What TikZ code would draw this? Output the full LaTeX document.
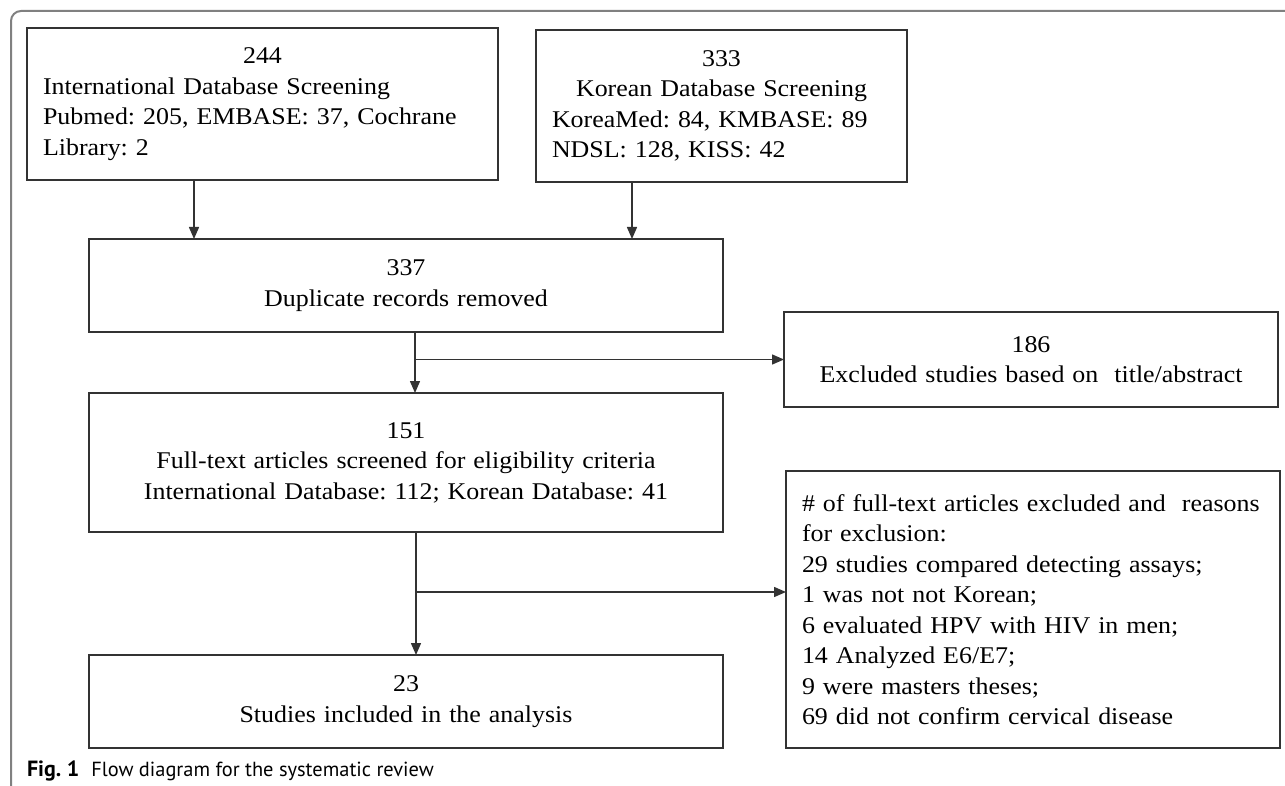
\documentclass[tikz,border=0pt]{standalone}
\usepackage{fontspec}
\setmainfont{Liberation Serif}[FakeStretch=1.08]
\newfontfamily\capfont{PT Sans}
\usetikzlibrary{arrows.meta}
\definecolor{boxgray}{HTML}{333333}
\definecolor{framegray}{HTML}{808080}
\frenchspacing
\begin{document}
\begin{tikzpicture}[x=0.5pt, y=-0.5pt, >={Triangle[length=6pt,width=5pt]},
    every node/.style={outer sep=0pt},
    box/.style={draw=boxgray, line width=0.75pt, inner xsep=8pt, inner ysep=0pt,
      font=\fontsize{12pt}{15.25pt}\selectfont},
    wide/.style={box, text width=301pt, minimum height=46.5pt, align=center},
    side/.style={box, text width=231pt, align=left}]
  \useasboundingbox (0,0) rectangle (1285,786);
  \draw[framegray, line width=1pt, rounded corners=5pt] (11,786) -- (11,11) -- (1285,11);

  \node[box, text width=219.5pt, minimum height=76pt, align=left] (I) at (262.5,104)
    {\makebox[\linewidth]{244}\\International Database Screening\\
     Pubmed: 205, EMBASE: 37, Cochrane\\Library: 2};
  \node[box, text width=169.5pt, minimum height=76pt, align=left] (K) at (721.5,106)
    {\makebox[\linewidth]{333}\\\makebox[\linewidth]{Korean Database Screening}\\
     KoreaMed: 84, KMBASE: 89\\NDSL: 128, KISS: 42};
  \node[wide] (D) at (406,285.5) {337\\Duplicate records removed};
  \node[side, minimum height=47.5pt, align=center] (E) at (1031,359.5)
    {186\\Excluded studies based on\ \ title/abstract};
  \node[wide, minimum height=69.5pt] (F) at (406,462.5)
    {151\\Full-text articles screened for eligibility criteria\\
     International Database: 112; Korean Database: 41\\[4pt]};
  \node[wide] (S) at (406,701.5) {23\\Studies included in the analysis};
  \node[side, minimum height=138.5pt] (R) at (1033,609.5)
    {\makebox[225pt][s]{\# of full-text articles excluded and\ \ reasons}\\
     for exclusion:\\29 studies compared detecting assays;\\1 was not not Korean;\\
     6 evaluated HPV with HIV in men;\\14 Analyzed E6/E7;\\9 were masters theses;\\
     69 did not confirm cervical disease};
  \node[anchor=base west, inner sep=0pt, font=\capfont\fontsize{10.2pt}{12pt}\selectfont] (cap) at (27,776)
    {\textbf{\fontsize{11pt}{12pt}\selectfont Fig. 1}\hspace{6pt}Flow diagram for the systematic review};

  \coordinate (i) at ([xshift=-34.25pt]I.south);
  \coordinate (k) at ([xshift=-44.75pt]K.south);
  \coordinate (d) at ([xshift=4.5pt]D.south);
  \coordinate (f) at ([xshift=5pt]F.south);
  \coordinate (r) at ([yshift=8.75pt]R.west);
  \begin{scope}[draw=boxgray, line width=0.75pt]
    \draw[->] (i) -- (i |- D.north);
    \draw[->] (k) -- (k |- D.north);
    \draw[->] (d) -- (d |- F.north);
    \draw[->] (d |- E.west) -- (E.west);
    \draw[->] (f) -- (f |- S.north);
    \draw[->] (f |- r) -- (r);
  \end{scope}
\end{tikzpicture}
\end{document}
